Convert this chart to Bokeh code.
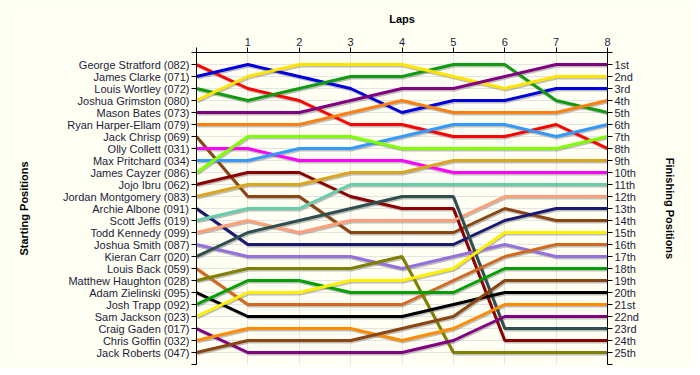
from bokeh.plotting import figure
from bokeh.models import Range1d, FixedTicker, LinearAxis
from bokeh.embed import file_html
from bokeh.resources import INLINE

laps = [0, 1, 2, 3, 4, 5, 6, 7, 8]

drivers = [
    "George Stratford (082)", "James Clarke (071)", "Louis Wortley (072)",
    "Joshua Grimston (080)", "Mason Bates (073)", "Ryan Harper-Ellam (079)",
    "Jack Chrisp (069)", "Olly Collett (031)", "Max Pritchard (034)",
    "James Cayzer (086)", "Jojo Ibru (062)", "Jordan Montgomery (083)",
    "Archie Albone (091)", "Scott Jeffs (019)", "Todd Kennedy (099)",
    "Joshua Smith (087)", "Kieran Carr (020)", "Louis Back (059)",
    "Matthew Haughton (028)", "Adam Zielinski (095)", "Josh Trapp (092)",
    "Sam Jackson (023)", "Craig Gaden (017)", "Chris Goffin (032)",
    "Jack Roberts (047)",
]

finishing_labels = [
    "1st", "2nd", "3rd", "4th", "5th", "6th", "7th", "8th", "9th", "10th",
    "11th", "12th", "13th", "14th", "15th", "16th", "17th", "18th", "19th",
    "20th", "21st", "22nd", "23rd", "24th", "25th",
]

# position of each driver after each lap (lap 0 = starting grid)
pos_stratford = [1, 3, 4, 6, 6, 7, 7, 6, 8]
pos_clarke = [2, 1, 2, 3, 5, 4, 4, 3, 3]
pos_wortley = [3, 4, 3, 2, 2, 1, 1, 4, 5]
pos_grimston = [4, 2, 1, 1, 1, 2, 3, 2, 2]
pos_bates = [5, 5, 5, 4, 3, 3, 2, 1, 1]
pos_harper = [6, 6, 6, 5, 4, 5, 5, 5, 4]
pos_chrisp = [7, 12, 12, 15, 15, 15, 13, 14, 14]
pos_collett = [8, 8, 9, 9, 9, 10, 10, 10, 10]
pos_pritchard = [9, 9, 8, 8, 7, 6, 6, 7, 6]
pos_cayzer = [10, 7, 7, 7, 8, 8, 8, 8, 7]
pos_ibru = [11, 10, 10, 12, 13, 13, 24, 24, 24]
pos_montgomery = [12, 11, 11, 10, 10, 9, 9, 9, 9]
pos_albone = [13, 16, 16, 16, 16, 16, 14, 13, 13]
pos_jeffs = [14, 13, 13, 11, 11, 11, 11, 11, 11]
pos_kennedy = [15, 14, 15, 14, 14, 14, 12, 12, 12]
pos_smith = [16, 17, 17, 17, 18, 17, 16, 17, 17]
pos_carr = [17, 15, 14, 13, 12, 12, 23, 23, 23]
pos_back = [18, 21, 21, 21, 21, 19, 17, 16, 16]
pos_haughton = [19, 18, 18, 18, 17, 25, 25, 25, 25]
pos_zielinski = [20, 22, 22, 22, 22, 21, 20, 20, 20]
pos_trapp = [21, 19, 19, 20, 20, 20, 18, 18, 18]
pos_jackson = [22, 20, 20, 19, 19, 18, 15, 15, 15]
pos_gaden = [23, 25, 25, 25, 25, 24, 22, 22, 22]
pos_goffin = [24, 23, 23, 23, 24, 23, 21, 21, 21]
pos_roberts = [25, 24, 24, 24, 23, 22, 19, 19, 19]

positions = [
    pos_stratford, pos_clarke, pos_wortley, pos_grimston, pos_bates,
    pos_harper, pos_chrisp, pos_collett, pos_pritchard, pos_cayzer,
    pos_ibru, pos_montgomery, pos_albone, pos_jeffs, pos_kennedy,
    pos_smith, pos_carr, pos_back, pos_haughton, pos_zielinski,
    pos_trapp, pos_jackson, pos_gaden, pos_goffin, pos_roberts,
]

colors = [
    "#FF0000", "#0000DD", "#109A10", "#FFE400", "#800080",
    "#FF8010", "#8B4513", "#FF00FF", "#3399FF", "#80FF00",
    "#8B0000", "#DAA520", "#191970", "#66CDAA", "#FFA07A",
    "#9370DB", "#2F4F4F", "#D2691E", "#808000", "#000000",
    "#00A000", "#FFF000", "#800080", "#FF8C00", "#8B4513",
]

BG = "#FFFFF4"
TEXT = "#1C1C3C"

p = figure(
    width=692, height=367, output_backend="svg", toolbar_location=None,
    x_range=Range1d(0, 8), y_range=Range1d(26, 0),
    x_axis_location="above", y_axis_location="left",
    min_border_left=196, min_border_right=85,
    min_border_top=52, min_border_bottom=3,
)
p.background_fill_color = BG
p.border_fill_color = BG
p.outline_line_color = None

n_slots = len(drivers)
y_ticks = list(range(0, n_slots + 2))

# top axis (laps)
xa = p.xaxis[0]
xa.ticker = FixedTicker(ticks=laps)
xa.major_label_overrides = {0: ""}
xa.axis_label = "Laps"

# left axis (starting positions)
ya = p.yaxis[0]
ya.ticker = FixedTicker(ticks=y_ticks)
left_over = {0: "", n_slots + 1: ""}
for i, name in enumerate(drivers):
    left_over[i + 1] = name
ya.major_label_overrides = left_over
ya.axis_label = "Starting Positions"

# right axis (finishing positions)
right_over = {0: "", n_slots + 1: ""}
for i, lab in enumerate(finishing_labels):
    right_over[i + 1] = lab
ra = LinearAxis(ticker=FixedTicker(ticks=y_ticks), major_label_overrides=right_over,
                axis_label="Finishing Positions")
p.add_layout(ra, "right")

for ax in [xa, ya, ra]:
    ax.axis_line_color = "black"
    ax.major_tick_line_color = "black"
    ax.major_tick_out = 5
    ax.major_tick_in = 0
    ax.minor_tick_line_color = None
    ax.major_label_text_font = "Liberation Sans"
    ax.major_label_text_font_size = "11px"
    ax.major_label_text_color = TEXT
    ax.axis_label_text_font = "Liberation Sans"
    ax.axis_label_text_font_size = "11px"
    ax.axis_label_text_font_style = "bold"
    ax.axis_label_text_color = "black"
    ax.major_label_standoff = 2

xa.axis_label_standoff = 10
ya.axis_label_standoff = 30
ra.axis_label_standoff = 22

p.xgrid.grid_line_color = "#E4E4E4"
p.ygrid.grid_line_color = "#E4E4E4"

# shadow offsets (approx 1px right, 1.5px down)
dx = 0.02
dy = 0.12
for pos in positions:
    p.line([x + dx for x in laps], [y + dy for y in pos], line_width=3,
           line_color="#707070", line_alpha=0.45)
for pos, c in zip(positions, colors):
    p.line(laps, pos, line_width=3, line_color=c)

open("out.html", "w").write(file_html(p, INLINE))
